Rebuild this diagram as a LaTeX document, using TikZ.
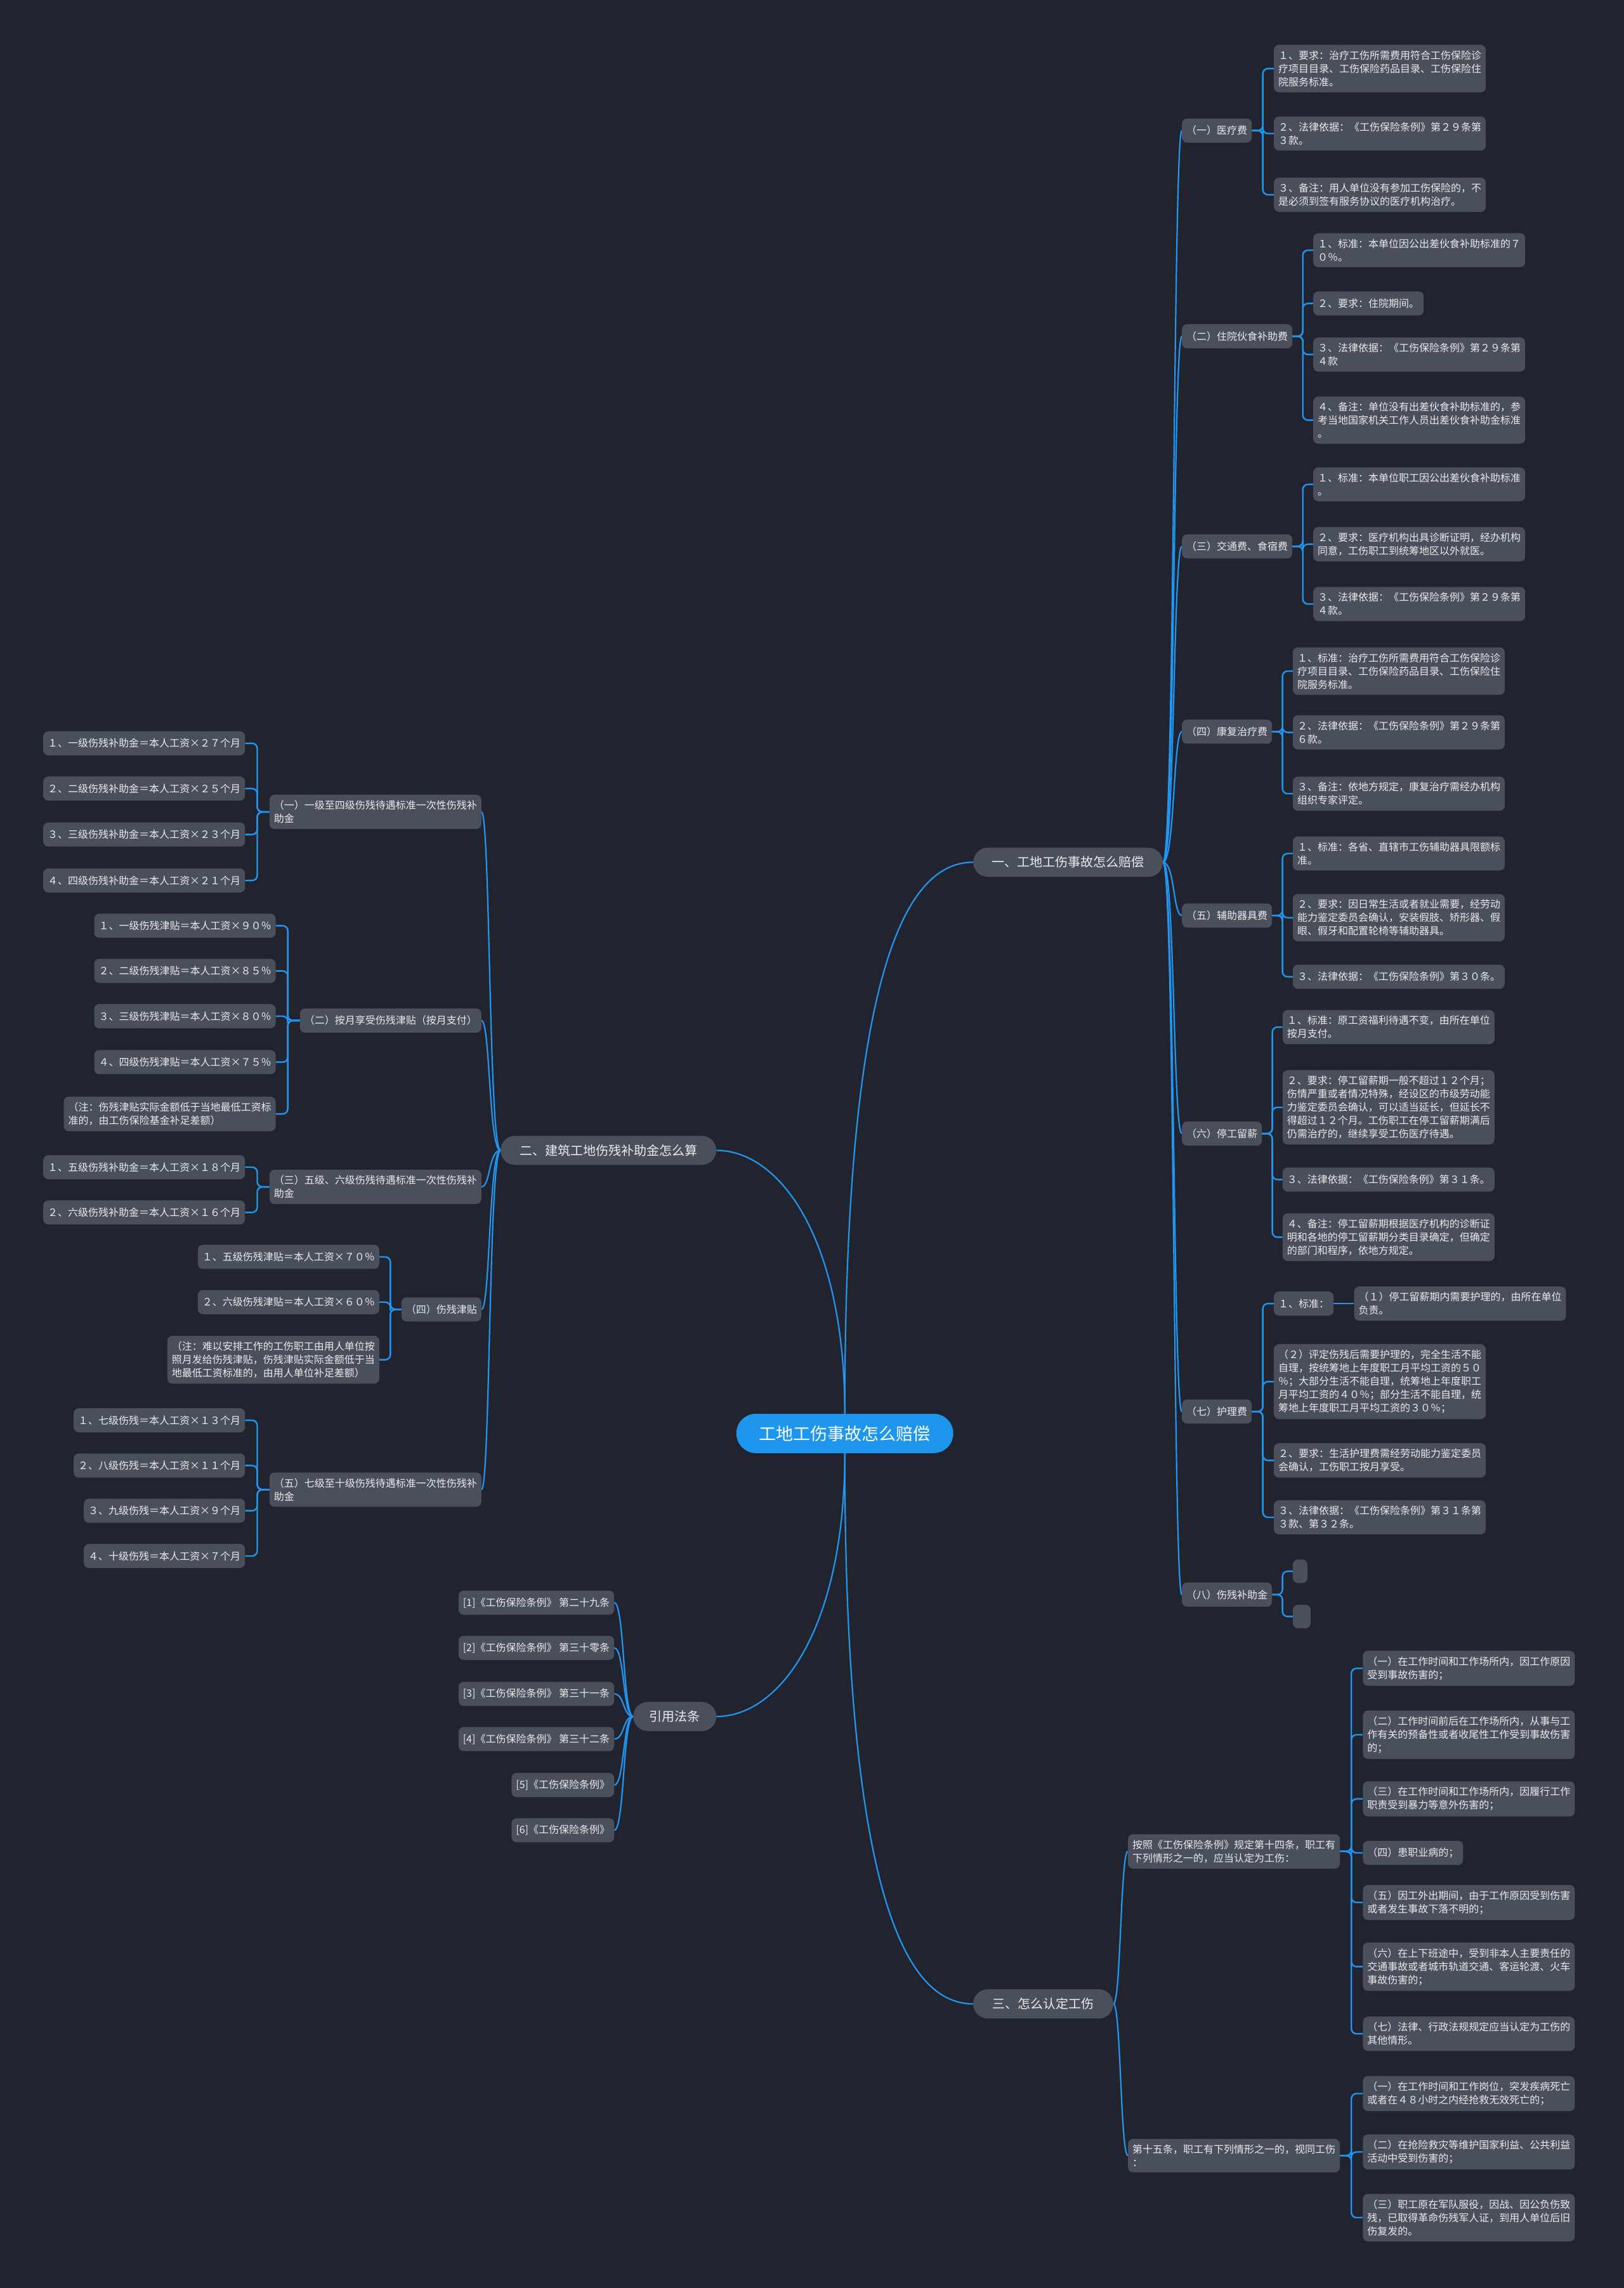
\documentclass[tikz,border=0pt]{standalone}
\usepackage{fontspec}
\setmainfont{Noto Sans CJK SC}
\newfontfamily\cjk{Noto Sans CJK SC}
\usetikzlibrary{calc,backgrounds}
\definecolor{bgc}{HTML}{21242F}
\definecolor{boxc}{HTML}{4A4F5C}
\definecolor{linec}{HTML}{2196F0}
\definecolor{rootc}{HTML}{1E96EE}
\definecolor{txtc}{HTML}{EBEBEB}
\begin{document}
\begin{tikzpicture}[x=2.3pt,y=-2.3pt,
 leaf/.style={fill=boxc, rounded corners=8pt, text=txtc, font=\cjk\fontsize{16}{21}\selectfont, align=left, inner xsep=7pt, inner ysep=9pt, minimum height=38pt},
 major/.style={fill=boxc, rounded corners=23pt, text=txtc, font=\cjk\fontsize{20}{24}\selectfont, minimum height=46pt},
 rootn/.style={fill=rootc, rounded corners=31pt, text=white, font=\cjk\fontsize{27}{32}\selectfont, minimum width=342pt, minimum height=62pt},
 link/.style={draw=linec, line width=2.4pt, rounded corners=8pt},
 curve/.style={draw=linec, line width=2.2pt},
 R/.style={leaf, anchor=west},
 L/.style={leaf, anchor=east}
]
\useasboundingbox (0,0) rectangle (1113.04,1568.26);

% ---------- main nodes ----------
\node[rootn] (root) at (579,982.5) {工地工伤事故怎么赔偿};
\node[major, minimum width=299pt] (n1) at (732,591) {一、工地工伤事故怎么赔偿};
\node[major, minimum width=340pt] (n2) at (417,788.5) {二、建筑工地伤残补助金怎么算};
\node[major, minimum width=131pt] (n4) at (462.5,1176.5) {引用法条};
\node[major, minimum width=221pt] (n3) at (715,1373.5) {三、怎么认定工伤};

% ---------- right: level 2 ----------
\node[R] (r1) at (810,89.5) {（一）医疗费};
\node[R] (r2) at (810,230.5) {（二）住院伙食补助费};
\node[R] (r3) at (810,374.5) {（三）交通费、食宿费};
\node[R] (r4) at (810,501.5) {（四）康复治疗费};
\node[R] (r5) at (810,627.5) {（五）辅助器具费};
\node[R] (r6) at (810,777) {（六）停工留薪};
\node[R] (r7) at (810,967.5) {（七）护理费};
\node[R] (r8) at (810,1093) {（八）伤残补助金};

% ---------- right: level 3 ----------
\node[R] (a1) at (873,47) {１、要求：治疗工伤所需费用符合工伤保险诊\\疗项目目录、工伤保险药品目录、工伤保险住\\院服务标准。};
\node[R] (a2) at (873,91.5) {２、法律依据：《工伤保险条例》第２９条第\\３款。};
\node[R] (a3) at (873,133.5) {３、备注：用人单位没有参加工伤保险的，不\\是必须到签有服务协议的医疗机构治疗。};

\node[R] (b1) at (900,171.5) {１、标准：本单位因公出差伙食补助标准的７\\０％。};
\node[R] (b2) at (900,208) {２、要求：住院期间。};
\node[R] (b3) at (900,243) {３、法律依据：《工伤保险条例》第２９条第\\４款};
\node[R] (b4) at (900,288) {４、备注：单位没有出差伙食补助标准的，参\\考当地国家机关工作人员出差伙食补助金标准\\。};

\node[R] (c1) at (900,332) {１、标准：本单位职工因公出差伙食补助标准\\。};
\node[R] (c2) at (900,373) {２、要求：医疗机构出具诊断证明，经办机构\\同意，工伤职工到统筹地区以外就医。};
\node[R] (c3) at (900,414) {３、法律依据：《工伤保险条例》第２９条第\\４款。};

\node[R] (d1) at (886,460) {１、标准：治疗工伤所需费用符合工伤保险诊\\疗项目目录、工伤保险药品目录、工伤保险住\\院服务标准。};
\node[R] (d2) at (886,502) {２、法律依据：《工伤保险条例》第２９条第\\６款。};
\node[R] (d3) at (886,544) {３、备注：依地方规定，康复治疗需经办机构\\组织专家评定。};

\node[R] (e1) at (886,585) {１、标准：各省、直辖市工伤辅助器具限额标\\准。};
\node[R] (e2) at (886,629) {２、要求：因日常生活或者就业需要，经劳动\\能力鉴定委员会确认，安装假肢、矫形器、假\\眼、假牙和配置轮椅等辅助器具。};
\node[R] (e3) at (886,669.5) {３、法律依据：《工伤保险条例》第３０条。};

\node[R] (f1) at (879,704) {１、标准：原工资福利待遇不变，由所在单位\\按月支付。};
\node[R] (f2) at (879,759) {２、要求：停工留薪期一般不超过１２个月；\\伤情严重或者情况特殊，经设区的市级劳动能\\力鉴定委员会确认，可以适当延长，但延长不\\得超过１２个月。工伤职工在停工留薪期满后\\仍需治疗的，继续享受工伤医疗待遇。};
\node[R] (f3) at (879,808.5) {３、法律依据：《工伤保险条例》第３１条。};
\node[R] (f4) at (879,848) {４、备注：停工留薪期根据医疗机构的诊断证\\明和各地的停工留薪期分类目录确定，但确定\\的部门和程序，依地方规定。};

\node[R] (g1) at (873,893.5) {１、标准：};
\node[R] (g1a) at (928,893.5) {（１）停工留薪期内需要护理的，由所在单位\\负责。};
\node[R] (g2) at (873,947) {（２）评定伤残后需要护理的，完全生活不能\\自理，按统筹地上年度职工月平均工资的５０\\％；大部分生活不能自理，统筹地上年度职工\\月平均工资的４０％；部分生活不能自理，统\\筹地上年度职工月平均工资的３０％；};
\node[R] (g3) at (873,1001) {２、要求：生活护理费需经劳动能力鉴定委员\\会确认，工伤职工按月享受。};
\node[R] (g4) at (873,1040) {３、法律依据：《工伤保险条例》第３１条第\\３款、第３２条。};

\node[R, minimum width=23pt, minimum height=37pt, inner sep=0pt] (h1) at (886,1077) {};
\node[R, minimum width=28pt, minimum height=37pt, inner sep=0pt] (h2) at (886,1108) {};

% ---------- right bottom: 三 ----------
\node[R] (s1) at (773,1269) {按照《工伤保险条例》规定第十四条，职工有\\下列情形之一的，应当认定为工伤：};
\node[R] (s2) at (773,1477.5) {第十五条，职工有下列情形之一的，视同工伤\\：};

\node[R] (t1) at (934,1143.5) {（一）在工作时间和工作场所内，因工作原因\\受到事故伤害的；};
\node[R] (t2) at (934,1189) {（二）工作时间前后在工作场所内，从事与工\\作有关的预备性或者收尾性工作受到事故伤害\\的；};
\node[R] (t3) at (934,1233) {（三）在工作时间和工作场所内，因履行工作\\职责受到暴力等意外伤害的；};
\node[R] (t4) at (934,1270) {（四）患职业病的；};
\node[R] (t5) at (934,1304) {（五）因工外出期间，由于工作原因受到伤害\\或者发生事故下落不明的；};
\node[R] (t6) at (934,1348) {（六）在上下班途中，受到非本人主要责任的\\交通事故或者城市轨道交通、客运轮渡、火车\\事故伤害的；};
\node[R] (t7) at (934,1394) {（七）法律、行政法规规定应当认定为工伤的\\其他情形。};

\node[R] (u1) at (934,1435) {（一）在工作时间和工作岗位，突发疾病死亡\\或者在４８小时之内经抢救无效死亡的；};
\node[R] (u2) at (934,1475) {（二）在抢险救灾等维护国家利益、公共利益\\活动中受到伤害的；};
\node[R] (u3) at (934,1520) {（三）职工原在军队服役，因战、因公负伤致\\残，已取得革命伤残军人证，到用人单位后旧\\伤复发的。};

% ---------- left: 二 ----------
\node[L] (l1) at (330,556.5) {（一）一级至四级伤残待遇标准一次性伤残补\\助金};
\node[L] (l2) at (330,699.5) {（二）按月享受伤残津贴（按月支付）};
\node[L] (l3) at (330,813.5) {（三）五级、六级伤残待遇标准一次性伤残补\\助金};
\node[L] (l4) at (330,897.5) {（四）伤残津贴};
\node[L] (l5) at (330,1021) {（五）七级至十级伤残待遇标准一次性伤残补\\助金};

\node[L] (m1) at (168,509.5) {１、一级伤残补助金＝本人工资×２７个月};
\node[L] (m2) at (168,540.5) {２、二级伤残补助金＝本人工资×２５个月};
\node[L] (m3) at (168,572) {３、三级伤残补助金＝本人工资×２３个月};
\node[L] (m4) at (168,603.5) {４、四级伤残补助金＝本人工资×２１个月};

\node[L] (p1) at (189,634.5) {１、一级伤残津贴＝本人工资×９０％};
\node[L] (p2) at (189,665.5) {２、二级伤残津贴＝本人工资×８５％};
\node[L] (p3) at (189,696.5) {３、三级伤残津贴＝本人工资×８０％};
\node[L] (p4) at (189,728) {４、四级伤残津贴＝本人工资×７５％};
\node[L] (p5) at (189,763.5) {（注：伤残津贴实际金额低于当地最低工资标\\准的，由工伤保险基金补足差额）};

\node[L] (q1) at (168,800) {１、五级伤残补助金＝本人工资×１８个月};
\node[L] (q2) at (168,831) {２、六级伤残补助金＝本人工资×１６个月};

\node[L] (v1) at (260,861.5) {１、五级伤残津贴＝本人工资×７０％};
\node[L] (v2) at (260,892.5) {２、六级伤残津贴＝本人工资×６０％};
\node[L] (v3) at (260,932) {（注：难以安排工作的工伤职工由用人单位按\\照月发给伤残津贴，伤残津贴实际金额低于当\\地最低工资标准的，由用人单位补足差额）};

\node[L] (w1) at (168,973.5) {１、七级伤残＝本人工资×１３个月};
\node[L] (w2) at (168,1004.5) {２、八级伤残＝本人工资×１１个月};
\node[L] (w3) at (168,1035.5) {３、九级伤残＝本人工资×９个月};
\node[L] (w4) at (168,1066.5) {４、十级伤残＝本人工资×７个月};

% ---------- left: 引用法条 ----------
\node[L] (k1) at (421,1098.5) {[1]《工伤保险条例》 第二十九条};
\node[L] (k2) at (421,1129.5) {[2]《工伤保险条例》 第三十零条};
\node[L] (k3) at (421,1161) {[3]《工伤保险条例》 第三十一条};
\node[L] (k4) at (421,1192) {[4]《工伤保险条例》 第三十二条};
\node[L] (k5) at (421,1223.5) {[5]《工伤保险条例》};
\node[L] (k6) at (421,1254.5) {[6]《工伤保险条例》};

% ---------- connectors ----------
\begin{scope}[on background layer]
\fill[bgc] (0,0) rectangle (1113.04,1568.26);

\draw[curve] (root.north) .. controls ($(root.north)+(0,-317)$) and ($(n1.west)+(-42,0)$) .. (n1.west);
\draw[curve] (root.north) .. controls ($(root.north)+(0,-119)$) and ($(n2.east)+(44,0)$) .. (n2.east);
\draw[curve] (root.south) .. controls ($(root.south)+(0,316)$) and ($(n3.west)+(-42,0)$) .. (n3.west);
\draw[curve] (root.south) .. controls ($(root.south)+(0,119)$) and ($(n4.east)+(44,0)$) .. (n4.east);

\foreach \c in {r1,r2,r3,r4,r5,r6,r7,r8}
  \draw[curve] (n1.east) .. controls ($(n1.east)+(8,0)$) and ($(\c.west)+(-6,0)$) .. (\c.west);
\foreach \c in {s1,s2}
  \draw[curve] (n3.east) .. controls ($(n3.east)+(5,0)$) and ($(\c.west)+(-5,0)$) .. (\c.west);
\foreach \c in {l1,l2,l3,l4,l5}
  \draw[curve] (n2.west) .. controls ($(n2.west)+(-8,0)$) and ($(\c.east)+(6,0)$) .. (\c.east);
\foreach \c in {k1,k2,k3,k4,k5,k6}
  \draw[curve] (n4.west) .. controls ($(n4.west)+(-7,0)$) and ($(\c.east)+(7,0)$) .. (\c.east);

\foreach \p/\c in {r1/a1,r1/a2,r1/a3,r2/b1,r2/b2,r2/b3,r2/b4,r3/c1,r3/c2,r3/c3,r4/d1,r4/d2,r4/d3,r5/e1,r5/e2,r5/e3,r6/f1,r6/f2,r6/f3,r6/f4,r7/g1,r7/g2,r7/g3,r7/g4,r8/h1,r8/h2,s1/t1,s1/t2,s1/t3,s1/t4,s1/t5,s1/t6,s1/t7,s2/u1,s2/u2,s2/u3}
  \draw[link] (\p.east) -| ($(\p.east)!0.5!(\c.west)$) |- (\c.west);
\draw[link] (g1.east) -- (g1a.west);

\foreach \p/\c in {l1/m1,l1/m2,l1/m3,l1/m4,l2/p1,l2/p2,l2/p3,l2/p4,l2/p5,l3/q1,l3/q2,l4/v1,l4/v2,l4/v3,l5/w1,l5/w2,l5/w3,l5/w4}
  \draw[link] (\p.west) -| ($(\p.west)!0.5!(\c.east)$) |- (\c.east);
\end{scope}
\end{tikzpicture}
\end{document}
